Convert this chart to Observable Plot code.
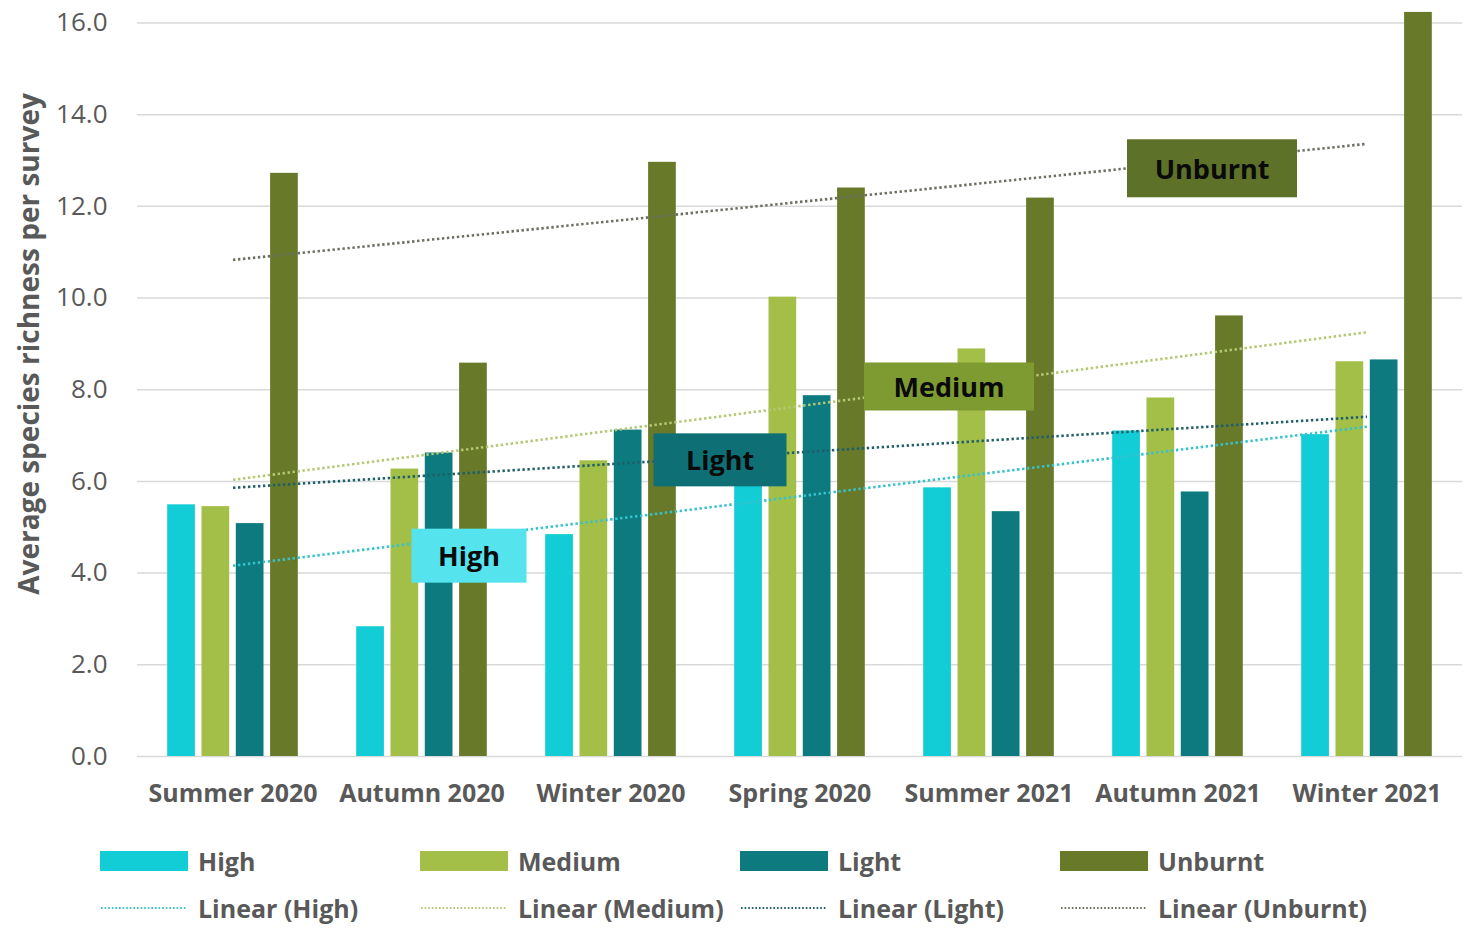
<!DOCTYPE html>
<html><head><meta charset="utf-8">
<script src="https://cdn.jsdelivr.net/npm/d3@7"></script>
<script src="https://cdn.jsdelivr.net/npm/@observablehq/plot@0.6"></script>
<style>
body{margin:0;background:#fff;}
#chart{position:relative;width:1468px;height:930px;overflow:hidden;font-family:"Open Sans",Lato,sans-serif;color:#595959}
#chart svg{overflow:visible}
g[aria-label="x-axis tick label"] text, g[aria-label="x-axis"] text{font-weight:700;font-size:25px}
g[aria-label="y-axis tick label"] text{font-size:26px}
g[aria-label="y-axis label"] text{font-weight:700;font-size:28px}
.legend{position:absolute;left:0;top:0;width:1468px}
.item{position:absolute;display:flex;align-items:center;font-weight:700;font-size:25px;color:#595959;white-space:nowrap;height:34px;line-height:34px}
.sw{width:88px;height:20px;margin-right:10px}
</style></head><body><div id="chart"></div>
<script>
const seasons = ["Summer 2020","Autumn 2020","Winter 2020","Spring 2020","Summer 2021","Autumn 2021","Winter 2021"];
const series = ["High","Medium","Light","Unburnt"];
const high    = [5.49, 2.83, 4.84, 6.60, 5.86, 7.10, 7.02];
const medium  = [5.45, 6.27, 6.45, 10.02, 8.89, 7.82, 8.61];
const light   = [5.08, 6.62, 7.12, 7.87, 5.34, 5.77, 8.65];
const unburnt = [12.72, 8.58, 12.96, 12.40, 12.18, 9.61, 16.23];
const yTicks = [0, 2, 4, 6, 8, 10, 12, 14, 16];
// annotation boxes: label, anchored season, value level
const annotSeason = ["Autumn 2020","Winter 2020","Summer 2021","Autumn 2021"];
const annotValue  = [4.34, 6.43, 8.03, 12.79];

const values = {High: high, Medium: medium, Light: light, Unburnt: unburnt};
const barColor = {High:"#12CDD6", Medium:"#A4BF48", Light:"#0C7A7E", Unburnt:"#687A2A"};
const trendColor = {High:"#35C2CC", Medium:"#B4C873", Light:"#1F5F68", Unburnt:"#6A7060"};
const boxStyle = {
  High:{fill:"#55E3EE", dx:47, w:115, h:54},
  Light:{fill:"#0E6F75", dx:109, w:133, h:53},
  Medium:{fill:"#7E9B31", dx:-40, w:170, h:48},
  Unburnt:{fill:"#5E7128", dx:34, w:170, h:58}
};

const W = 1468, mL = 137, mR = 6, mT = 11, H = 816, mB = 60;
const bw = (W - mL - mR) / seasons.length;
const barW = 28, barStep = 34.3;

function fit(vals){
  const xs = d3.range(1, vals.length + 1);
  const mx = d3.mean(xs), my = d3.mean(vals);
  const b = d3.sum(xs, (x,i) => (x-mx)*(vals[i]-my)) / d3.sum(xs, x => (x-mx)**2);
  const a = my - b*mx;
  return xs.map(x => a + b*x);
}

const marks = [Plot.ruleY(yTicks, {stroke:"#d9d9d9", strokeWidth:1.5})];
series.forEach((s, i) => {
  const data = seasons.map((season, j) => ({season, value: values[s][j]}));
  const left = bw/2 + (i - 1.5)*barStep - barW/2;
  marks.push(Plot.barY(data, {x:"season", y:"value", fill: barColor[s], insetLeft: left, insetRight: bw - left - barW}));
});
series.forEach(s => {
  const f = fit(values[s]);
  const data = seasons.map((season, j) => ({season, value: f[j]}));
  marks.push(Plot.line(data, {x:"season", y:"value", stroke: trendColor[s], strokeWidth: 2.6,
    strokeDasharray:"2.4,2.6", strokeLinecap:"butt"}));
});
const annotOrder = ["High","Light","Medium","Unburnt"];
annotOrder.forEach((s, i) => {
  marks.push(Plot.text([{label:s, season: annotSeason[i], value: annotValue[i]}],
    {x:"season", y:"value", text:"label", dx: boxStyle[s].dx, fill:"#0a0a0a", fontSize:27, fontWeight:700}));
});

const plot = Plot.plot({
  width: W, height: H,
  marginLeft: mL, marginRight: mR, marginTop: mT, marginBottom: mB,
  style: {fontFamily: '"Open Sans", Lato, sans-serif', fontSize: "24px", color:"#595959", background:"white"},
  x: {domain: seasons, padding: 0, tickSize: 0, tickPadding: 28, label: null},
  y: {domain: [0, 16.25], ticks: yTicks, tickFormat: d3.format(".1f"), tickSize: 0, tickPadding: 30,
      label: "Average species richness per survey", labelAnchor: "center", labelOffset: 118, labelArrow: "none"},
  marks
});
document.getElementById("chart").appendChild(plot);

// boxes behind annotation labels
plot.querySelectorAll('g[aria-label="text"] text').forEach(t => {
  const st = boxStyle[t.textContent];
  if (!st) return;
  const bb = t.getBBox();
  const cx = bb.x + bb.width/2, cy = bb.y + bb.height/2;
  const r = document.createElementNS("http://www.w3.org/2000/svg","rect");
  r.setAttribute("x", cx - st.w/2); r.setAttribute("y", cy - st.h/2);
  r.setAttribute("width", st.w); r.setAttribute("height", st.h);
  r.setAttribute("fill", st.fill);
  if (t.getAttribute("transform")) r.setAttribute("transform", t.getAttribute("transform"));
  t.parentNode.insertBefore(r, t);
});
// y title sits a little above the plot's centre in the reference
plot.querySelectorAll('g[aria-label="y-axis label"] text').forEach(t => {
  const tr = t.getAttribute("transform") || "";
  t.setAttribute("transform", "translate(0,-40) " + tr);
});

// legend
const leg = document.createElement("div"); leg.className = "legend";
series.forEach((s, i) => {
  const x = 100 + i*320;
  const a = document.createElement("div"); a.className = "item";
  a.style.left = x + "px"; a.style.top = (861 - 17) + "px";
  a.innerHTML = `<div class="sw" style="background:${barColor[s]}"></div><span>${s}</span>`;
  leg.appendChild(a);
  const b = document.createElement("div"); b.className = "item";
  b.style.left = x + "px"; b.style.top = (908 - 17) + "px";
  b.innerHTML = `<svg width="88" height="10" style="margin-right:10px"><line x1="1" x2="87" y1="5" y2="5" stroke="${trendColor[s]}" stroke-width="2" stroke-dasharray="1.6,2"/></svg><span>Linear (${s})</span>`;
  leg.appendChild(b);
});
document.getElementById("chart").appendChild(leg);
</script></body></html>
